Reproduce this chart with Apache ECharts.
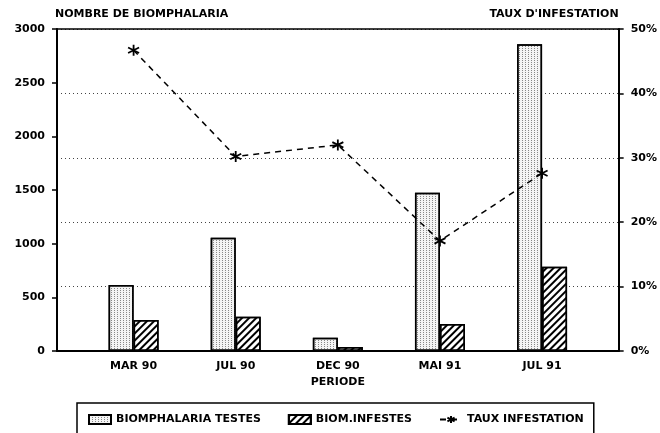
<!DOCTYPE html>
<html>
<head>
<meta charset="utf-8">
<script src="https://cdn.jsdelivr.net/npm/echarts@6/dist/echarts.min.js"></script>
<style>
  html, body { margin: 0; padding: 0; background: #fff; }
  #chart { width: 660px; height: 433px; }
</style>
</head>
<body>
<div id="chart"></div>
<script>
// periodes d'echantillonnage
var periodes = ['MAR 90', 'JUL 90', 'DEC 90', 'MAI 91', 'JUL 91']
// nombre de biomphalaria testes / infestes
var testes = [615, 1056, 124, 1475, 2857]
var infestes = [289, 320, 38, 252, 786]
// taux d'infestation (%)
var taux = [46.7, 30.2, 32.0, 17.1, 27.6]
var nombreTicks = [0, 500, 1000, 1500, 2000, 2500, 3000]
var tauxTicks = [0, 10, 20, 30, 40, 50]

var police = 'DejaVu Sans'
var texte = { color: '#000', fontFamily: police, fontWeight: 'bold', fontSize: 11 }

function points (values) {
  return values.map(function (v, i) { return [i, v] })
}

var etoile = 'path://M0,-6L0,6M-5.2,-3L5.2,3M-5.2,3L5.2,-3'

var myChart = echarts.init(document.getElementById('chart'), null, { renderer: 'canvas' })
myChart.setOption({
  animation: false,
  textStyle: { fontFamily: police },
  grid: { left: 57, right: 41, top: 29, bottom: 82 },
  legend: {
    left: 77,
    top: 403,
    padding: [11, 10, 20, 11],
    borderColor: '#000',
    borderWidth: 1.5,
    itemWidth: 22,
    itemHeight: 9,
    itemGap: 27,
    textStyle: texte,
    data: [
      { name: 'BIOMPHALARIA TESTES', icon: 'rect' },
      { name: 'BIOM.INFESTES', icon: 'rect' },
      { name: 'TAUX INFESTATION' }
    ]
  },
  xAxis: [
    {
      type: 'value',
      min: -0.75,
      max: 4.75,
      position: 'bottom',
      name: 'PERIODE',
      nameLocation: 'middle',
      nameGap: 26,
      nameTextStyle: texte,
      axisLine: { show: true, onZero: false, lineStyle: { color: '#000', width: 2 } },
      axisTick: { show: false },
      splitLine: { show: false },
      axisLabel: Object.assign({
        customValues: [0, 1, 2, 3, 4],
        margin: 10,
        formatter: function (v) { return periodes[Math.round(v)] || '' }
      }, texte)
    },
    {
      type: 'value',
      min: -0.75,
      max: 4.75,
      position: 'top',
      axisLine: { show: true, onZero: false, lineStyle: { color: '#000', width: 1.5 } },
      axisTick: { show: false },
      axisLabel: { show: false },
      splitLine: { show: false }
    }
  ],
  yAxis: [
    {
      type: 'value',
      min: nombreTicks[0],
      max: nombreTicks[nombreTicks.length - 1],
      interval: 500,
      position: 'left',
      name: 'NOMBRE DE BIOMPHALARIA',
      nameLocation: 'end',
      nameGap: 9,
      nameTextStyle: Object.assign({ align: 'left', padding: [0, 0, 0, -2] }, texte),
      axisLine: { show: true, onZero: false, lineStyle: { color: '#000', width: 2 } },
      axisTick: { show: true, inside: false, length: 5, lineStyle: { color: '#000', width: 1.5 } },
      axisLabel: Object.assign({ margin: 12, formatter: function (v) { return String(v) } }, texte),
      splitLine: { show: false }
    },
    {
      type: 'value',
      min: tauxTicks[0],
      max: tauxTicks[tauxTicks.length - 1],
      interval: 10,
      position: 'right',
      name: "TAUX D'INFESTATION",
      nameLocation: 'end',
      nameGap: 9,
      nameTextStyle: Object.assign({ align: 'right' }, texte),
      axisLine: { show: true, onZero: false, lineStyle: { color: '#000', width: 2 } },
      axisTick: { show: true, inside: false, length: 5, lineStyle: { color: '#000', width: 1.5 } },
      axisLabel: Object.assign({ margin: 12, formatter: '{value}%' }, texte),
      splitLine: { show: true, lineStyle: { color: '#444', type: [1, 3], width: 1 } }
    }
  ],
  series: [
    {
      name: 'BIOMPHALARIA TESTES',
      type: 'bar',
      xAxisIndex: 0,
      yAxisIndex: 0,
      barWidth: 25,
      barGap: '0%',
      data: points(testes),
      itemStyle: {
        color: '#f4f4f4',
        borderColor: '#000',
        borderWidth: 1.5,
        decal: {
          symbol: 'rect',
          symbolSize: 1,
          color: '#888',
          dashArrayX: [1, 2],
          dashArrayY: [1, 1]
        }
      }
    },
    {
      name: 'BIOM.INFESTES',
      type: 'bar',
      xAxisIndex: 0,
      yAxisIndex: 0,
      barWidth: 25,
      barGap: '0%',
      data: points(infestes),
      itemStyle: {
        color: '#fff',
        borderColor: '#000',
        borderWidth: 1.5,
        decal: {
          symbol: 'rect',
          symbolSize: 1,
          color: '#000',
          dashArrayX: [1, 0],
          dashArrayY: [2, 3],
          rotation: -Math.PI / 4
        }
      }
    },
    {
      name: 'TAUX INFESTATION',
      type: 'line',
      xAxisIndex: 0,
      yAxisIndex: 1,
      data: points(taux),
      symbol: etoile,
      symbolSize: 11,
      lineStyle: { color: '#000', width: 1.5, type: [6, 5] },
      itemStyle: { color: '#000', borderColor: '#000', borderWidth: 1.8 },
      z: 5
    }
  ]
})
window.onresize = function () {
  myChart.resize()
}
</script>
</body>
</html>
